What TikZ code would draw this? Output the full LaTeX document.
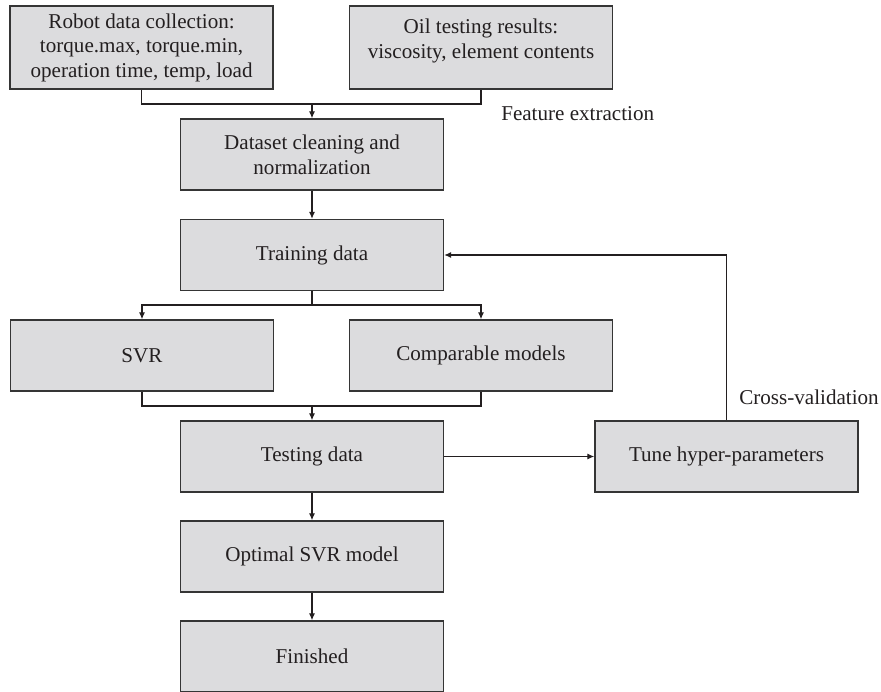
\documentclass[tikz,border=0pt]{standalone}
\usepackage{fontspec}
\setmainfont{Liberation Serif}
\usetikzlibrary{arrows.meta}
\definecolor{box-fill}{HTML}{DCDCDE}
\definecolor{box-line}{HTML}{353535}
\definecolor{ink}{HTML}{231F20}

\begin{document}
\begin{tikzpicture}[>={Latex[length=1.7mm,width=1.5mm]},
      every node/.style={font=\fontsize{15}{17.5}\selectfont, text=ink},
      stage/.style={draw=box-line, fill=box-fill, line width=1.1pt,
          minimum width=6.575cm, minimum height=1.775cm, inner sep=0pt, align=center},
      link/.style={draw=ink, line width=0.75pt}]
    \useasboundingbox (0,0) rectangle (22.025,-17.3);
    % data sources
    \node[stage, minimum height=2.075cm] (ROBOT) at (3.54,-1.19) {Robot data collection:\\torque.max, torque.min,\\operation time, temp, load};
    \node[stage, minimum height=2.075cm] (OIL) at (12.025,-1.19) {Oil testing results:\\viscosity, element contents\\[-0.35em]\mbox{}};
    \coordinate (J1) at (7.8,-2.6);
    \draw[link] (ROBOT.south) |- (J1) -| (OIL.south);
    \node[anchor=west, inner sep=0pt] (FEAT) at (12.525,-2.85) {Feature extraction};
    % main column
    \node[stage] (CLEAN) at (7.8,-3.8625) {Dataset cleaning and\\normalization};
    \draw[link, ->] (J1) -- (CLEAN.north);
    \node[stage] (TRAIN) at (7.8,-6.375) {Training data};
    \draw[link, ->] (CLEAN.south) -- (TRAIN.north);
    \coordinate (J2) at (7.8,-7.625);
    \node[stage] (SVR) at (3.55,-8.8875) {SVR};
    \node[stage] (COMP) at (12.025,-8.8875) {Comparable models};
    \draw[link] (TRAIN.south) -- (J2);
    \draw[link, ->] (J2) -| (SVR.north);
    \draw[link, ->] (J2) -| (COMP.north);
    \coordinate (J3) at (7.8,-10.15);
    \draw[link] (SVR.south) |- (J3) -| (COMP.south);
    \node[stage] (TEST) at (7.8,-11.4125) {Testing data};
    \draw[link, ->] (J3) -- (TEST.north);
    % tuning loop
    \node[stage] (TUNE) at (18.1625,-11.4125) {Tune hyper-parameters};
    \draw[link, ->] (TEST.east) -- (TUNE.west);
    \draw[link, ->] (TUNE.north) |- (TRAIN.east);
    \node[anchor=east, inner sep=0pt] (CROSS) at (21.975,-9.925) {Cross-validation};
    % result
    \node[stage] (OPT) at (7.8,-13.9125) {Optimal SVR model};
    \draw[link, ->] (TEST.south) -- (OPT.north);
    \node[stage] (FIN) at (7.8,-16.4125) {Finished};
    \draw[link, ->] (OPT.south) -- (FIN.north);
  \end{tikzpicture}
\end{document}
